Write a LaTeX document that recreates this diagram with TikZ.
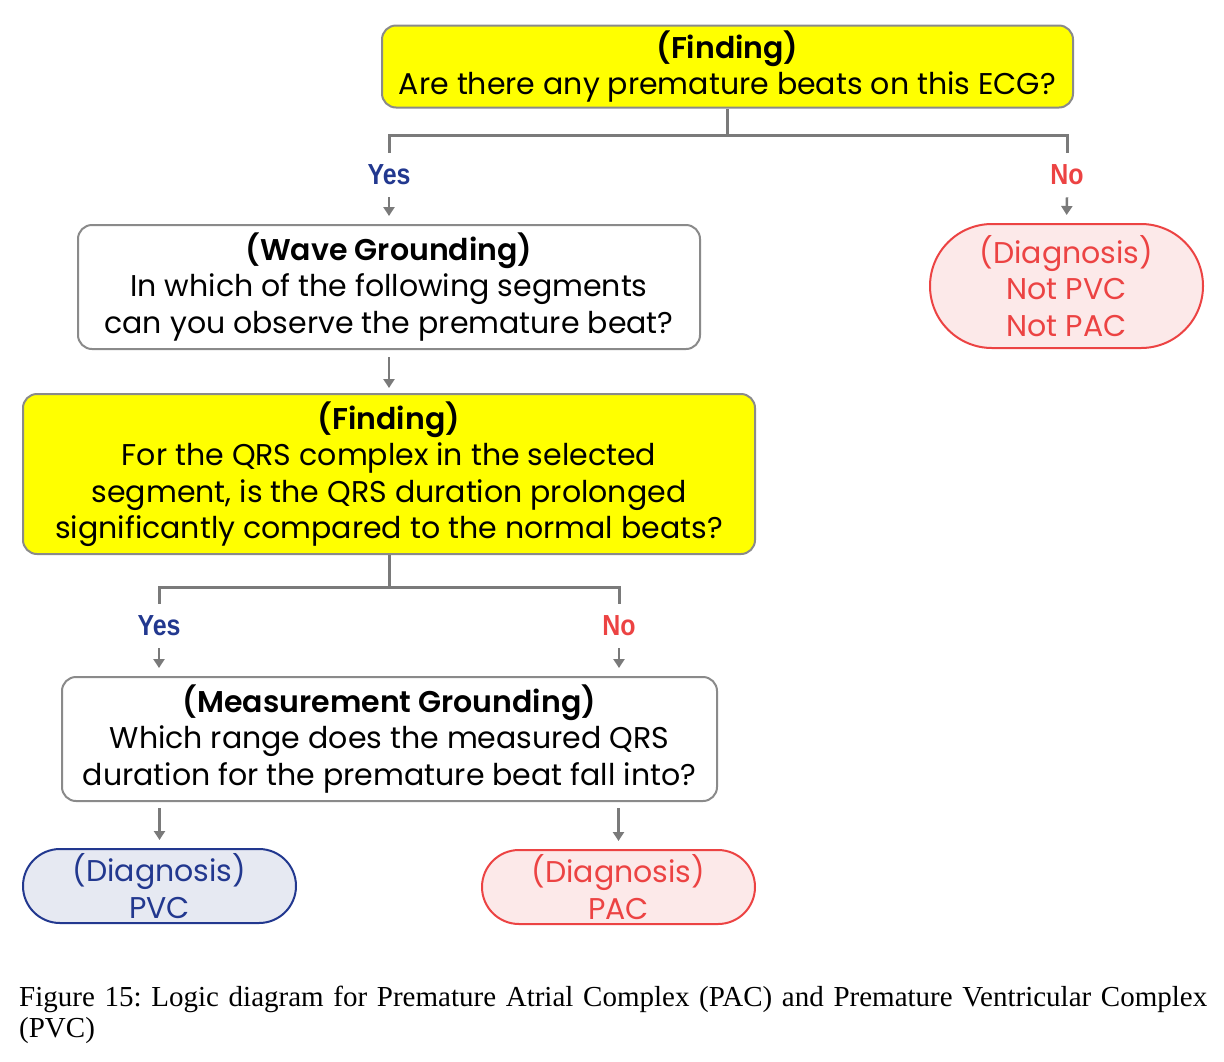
\documentclass[tikz,border=0pt]{standalone}
\usepackage{fontspec}
\usepackage{graphicx}
\setmainfont{Poppins}[BoldFont={* SemiBold}]
\newfontfamily\capfont{Liberation Serif}
\newfontfamily\ynfont{Liberation Sans}
\usetikzlibrary{arrows.meta,calc}
\definecolor{yel}{HTML}{FFFF00}
\definecolor{bord}{HTML}{8A8A8A}
\definecolor{lnc}{HTML}{7A7A7A}
\definecolor{blu}{HTML}{22388F}
\definecolor{bluf}{HTML}{E6E9F2}
\definecolor{rd}{HTML}{EC4343}
\definecolor{rdf}{HTML}{FCE9E9}
\begin{document}
\frenchspacing
\begin{tikzpicture}[x=1pt,y=-1pt,
  box/.style={draw=bord, line width=2pt, rounded corners=14pt, inner sep=0pt, align=center,
    font=\fontsize{30}{36.5}\selectfont},
  finding/.style={box, fill=yel},
  ground/.style={box, fill=white},
  pillred/.style={box, draw=rd, fill=rdf, text=rd},
  pillblue/.style={box, draw=blu, fill=bluf, text=blu},
  yn/.style={inner xsep=0pt, inner ysep=12pt, font=\ynfont\bfseries\fontsize{29}{29}\selectfont},
  conn/.style={draw=lnc, line width=3pt},
  arr/.style={draw=lnc, line width=2.5pt, -{Triangle[width=11pt,length=9pt]}},
]
\useasboundingbox (0,0) rectangle (1224,1061);

% nodes
\node[finding, minimum width=691pt, minimum height=82pt] (f1) at (727.5,66.5)
  {\textbf{(Finding)}\\Are there any premature beats on this ECG?};
\node[yn, text=blu] (yes1) at (389,175) {\scalebox{0.86}[1]{Yes}};
\node[yn, text=rd] (no1) at (1067,175) {\scalebox{0.86}[1]{No}};
\node[ground, minimum width=622pt, minimum height=124pt] (wave) at (389,287)
  {\textbf{(Wave Grounding)}\\In which of the following segments\\can you observe the premature beat?};
\node[pillred, rounded corners=62pt, minimum width=273pt, minimum height=124pt] (notpvc) at (1066.5,286)
  {(Diagnosis)\\Not PVC\\Not PAC};
\node[finding, minimum width=732pt, minimum height=160pt] (f2) at (389,474)
  {\textbf{(Finding)}\\For the QRS complex in the selected\\segment, is the QRS duration prolonged\\significantly compared to the normal beats?};
\node[yn, text=blu] (yes2) at (159,626) {\scalebox{0.86}[1]{Yes}};
\node[yn, text=rd] (no2) at (619,626) {\scalebox{0.86}[1]{No}};
\node[ground, minimum width=655pt, minimum height=124pt] (meas) at (389.5,739)
  {\textbf{(Measurement Grounding)}\\Which range does the measured QRS\\duration for the premature beat fall into?};
\node[pillblue, rounded corners=37pt, minimum width=273pt, minimum height=74pt] (pvc) at (159.5,886)
  {(Diagnosis)\\PVC};
\node[pillred, rounded corners=37pt, minimum width=273pt, minimum height=74pt] (pac) at (618.5,887)
  {(Diagnosis)\\PAC};

\node[anchor=base west, inner sep=0pt, font=\capfont\fontsize{29}{31}\selectfont] (cap1) at (19,1006)
  {\makebox[1188pt][s]{Figure 15: Logic diagram for Premature Atrial Complex (PAC) and Premature Ventricular Complex}};
\node[anchor=base west, inner sep=0pt, font=\capfont\fontsize{29}{31}\selectfont] (cap2) at (19,1037)
  {(PVC)};

% connectors
\draw[conn] (f1.south) -- ++(0,27) coordinate (j1);
\draw[conn] (yes1.north) |- (j1) -| (no1.north);
\draw[arr, shorten >=8pt] (yes1.south) -- (wave.north -| yes1.south);
\draw[arr, shorten >=8pt] (no1.south) -- (notpvc.north);
\draw[arr, shorten <=7pt, shorten >=5pt] (wave.south) -- (f2.north);

\draw[conn] (f2.south) -- ++(0,32) coordinate (j2);
\draw[conn] (yes2.north) |- (j2) -| (no2.north);
\draw[arr, shorten >=8pt] (yes2.south) -- (meas.north -| yes2.south);
\draw[arr, shorten >=8pt] (no2.south) -- (meas.north -| no2.south);
\draw[arr, shorten <=6pt, shorten >=8pt] (meas.south -| pvc.north) -- (pvc.north);
\draw[arr, shorten <=6pt, shorten >=8pt] (meas.south -| pac.north) -- (pac.north);
\end{tikzpicture}
\end{document}
